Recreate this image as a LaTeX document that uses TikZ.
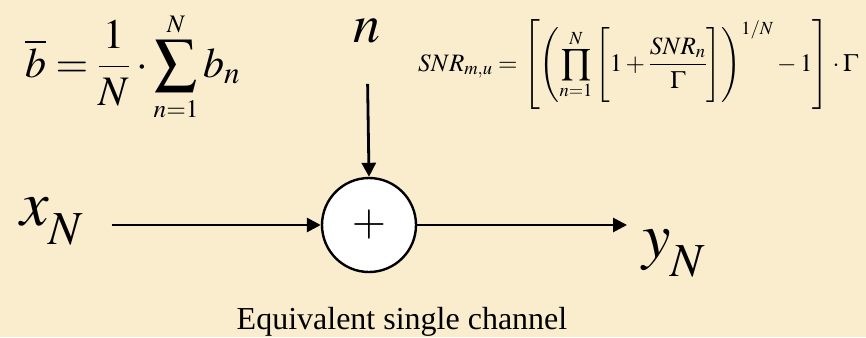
\documentclass[tikz,border=0pt]{standalone}
\usepackage{mathptmx}
\usepackage[no-math]{fontspec}
\setmainfont{Liberation Serif}
\usepackage{tikz}
\usetikzlibrary{positioning, arrows.meta, calc}
\usepackage{amsmath}
\usepackage{xcolor}
\definecolor{chbg}{HTML}{F9EDCD}
\definecolor{chink}{HTML}{000000}
\newcommand{\lowsub}[1]{\raisebox{-10pt}{$\scriptstyle #1$}}

\begin{document}
\begin{tikzpicture}[x=1pt, y=-1pt,
    lbl/.style={inner sep=0pt, anchor=base west, font=\fontsize{64}{64}\selectfont},
    eq/.style={inner sep=0pt, anchor=base west},
    sum/.style={circle, draw=chink, fill=white, line width=2.4pt, minimum size=94pt, inner sep=0pt, font=\fontsize{44}{44}\selectfont},
    arr/.style={-{Triangle[length=14pt,width=14pt]}, line width=2.8pt, color=chink}]
  \useasboundingbox (0,0) rectangle (866,337);
  \fill[chbg] (0,0) rectangle (866,337);
  \node[sum] (s) at (369,225) {$+$};
  \node[lbl] (xn) at (20,225) {$x_{\lowsub{N}}$};
  \node[lbl] (yn) at (642,257) {$y_{\lowsub{N}}$};
  \node[lbl, anchor=base, font=\fontsize{54}{54}\selectfont] (n) at (367,43) {$n$};
  \node[eq, font=\fontsize{42}{42}\selectfont] (bm) at (25,77) {$\displaystyle \overline{b}=\frac{1}{N}\cdot\sum_{\scriptscriptstyle n=1}^{\scriptscriptstyle N}b_n$};
  \node[eq, font=\fontsize{25}{25}\selectfont] (snr) at (418,71) {$\displaystyle SNR_{m,u}=\left[\left(\prod_{n=1}^{N}\Bigg[1+\frac{SNR_n}{\Gamma}\Bigg]\right)^{1/N}-1\right]\cdot\Gamma$};
  \node[inner sep=0pt, anchor=base, font=\fontsize{32}{32}\selectfont] (cap) at (402,329) {Equivalent single channel};
  \draw[arr, shorten <=28pt] (xn.east |- s.west) -- (s.west);
  \draw[arr, shorten >=15pt] (s.east) -- (yn.west |- s.east);
  \draw[arr, shorten <=40pt] (n.south) -- (s.north);
\end{tikzpicture}
\end{document}
